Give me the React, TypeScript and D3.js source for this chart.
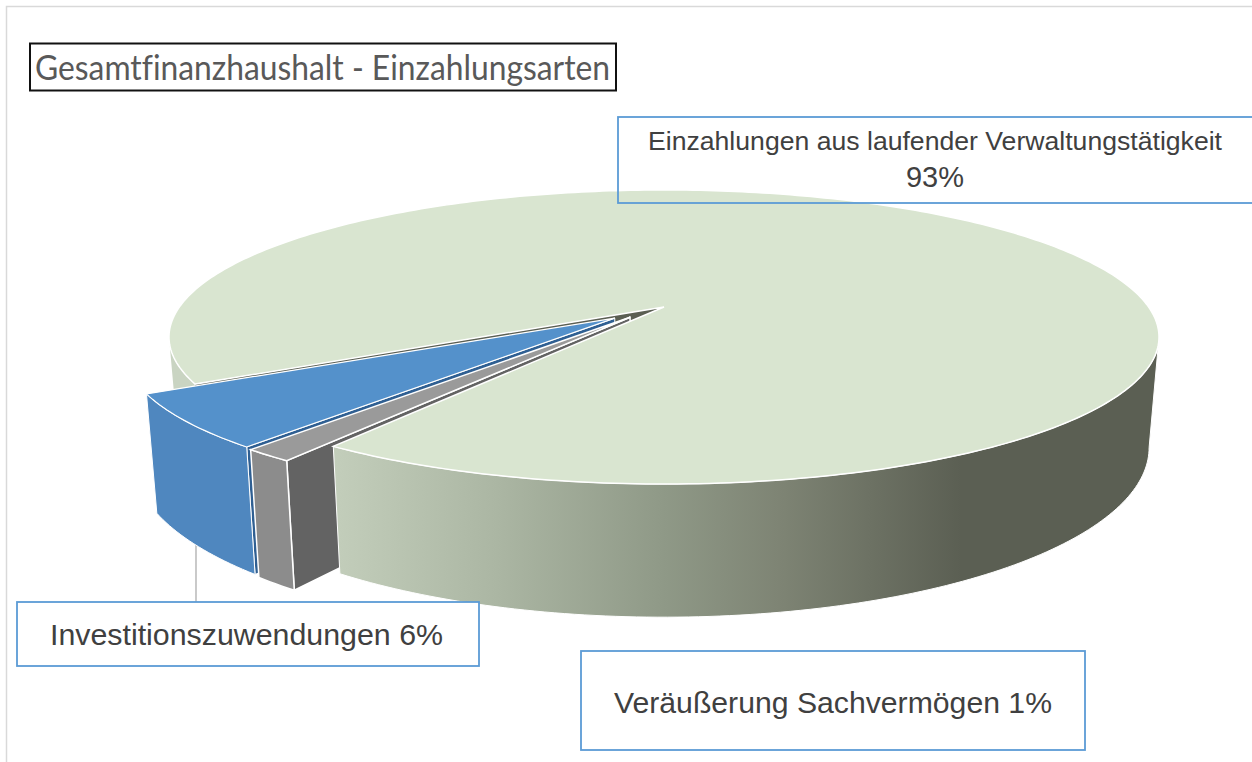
import React from "react";
import * as d3 from "d3";

const categories = ["Veräußerung Sachvermögen", "Investitionszuwendungen", "Einzahlungen aus laufender Verwaltungstätigkeit"];
const values = [1.4, 5.8, 92.8];
const titleText = "Gesamtfinanzhaushalt - Einzahlungsarten";

const deg = Math.PI / 180;
const cx = 664, y0 = 307, A = 484.6, B = 140.9, K = 0.204, D = 106, SHRINK = 0.02;
const START = 214.6 * deg;
type P = [number, number];
const offsets: P[] = [[-0.069, 0.069], [-0.078, 0.056], [0, 0]];
const apexOffsets: P[] = [[-0.069, 0.072], [-0.1, 0.078], [0, 0]];

const proj = (u: number, v: number, z: number): P => {
  const s = 1 / (1 - K * v);
  return [cx + A * u * s * (1 - SHRINK * z), y0 + B * v * s + D * z * s];
};
const line = d3.line<P>();
const pie = d3.pie<number>().sort(null).startAngle(START).endAngle(START + 2 * Math.PI);
const arcs = pie(values);

const rim = (a: number, b: number, off: P, z: number): P[] => {
  const n = Math.max(2, Math.ceil(Math.abs(b - a) / deg));
  return d3.range(n + 1).map((i) => {
    const t = a + ((b - a) * i) / n;
    return proj(Math.sin(t) + off[0], -Math.cos(t) + off[1], z);
  });
};
const closed = (pts: P[]) => line(pts) + "Z";
const topPath = (a: number, b: number, off: P, apex: P) => closed([proj(apex[0], apex[1], 0), ...rim(a, b, off, 0)]);
const wallPath = (a: number, b: number, off: P) => closed([...rim(a, b, off, 0), ...rim(a, b, off, 1).reverse()]);
const facePath = (t: number, off: P, apex: P) => {
  const e0 = proj(Math.sin(t) + off[0], -Math.cos(t) + off[1], 0);
  const e1 = proj(Math.sin(t) + off[0], -Math.cos(t) + off[1], 1);
  return closed([proj(apex[0], apex[1], 0), e0, e1, proj(apex[0], apex[1], 1)]);
};

const [grayArc, blueArc, mainArc] = arcs;
const pct = (i: number) => `${Math.round(values[i])}%`;
const RIGHT = 101.8 * deg, LEFT = 258.2 * deg;
const leaderX = 196;

const sans = "'Liberation Sans', Arial, sans-serif";
const noLig = { fontVariantLigatures: "none" } as React.CSSProperties;

export default function App() {
  const oG = offsets[0], oB = offsets[1], oM = offsets[2];
  const aG = apexOffsets[0], aB = apexOffsets[1], aM = apexOffsets[2];
  const mainEnd = mainArc.endAngle - 2 * Math.PI;
  return (
    <svg width={1252} height={762} viewBox="0 0 1252 762" style={{ position: "fixed", left: 0, top: 0, background: "#fff" }}>
      <defs>
        <linearGradient id="wall" gradientUnits="userSpaceOnUse" x1={332} x2={1160} y1={0} y2={0}>
          <stop offset="0" stopColor="#c3cebb" />
          <stop offset="0.2" stopColor="#abb6a3" />
          <stop offset="0.4" stopColor="#8f9987" />
          <stop offset="0.54" stopColor="#7e8474" />
          <stop offset="0.76" stopColor="#5b5f53" />
          <stop offset="1" stopColor="#5b5f53" />
        </linearGradient>
      </defs>
      <path d="M6.5 762V6.5H1252" fill="none" stroke="#d9d9d9" strokeWidth={1.5} />

      {/* back of main slice */}
      <path d={wallPath(mainArc.startAngle, LEFT, oM)} fill="#c9d4c2" />
      <path d={facePath(mainArc.startAngle, oM, aM)} fill="#5b5f53" />

      <line x1={leaderX} x2={leaderX} y1={540} y2={602} stroke="#a6a6a6" strokeWidth={1.2} />

      {/* blue slice */}
      <path d={facePath(blueArc.startAngle, oB, aB)} fill="#2f5f92" stroke="#fff" strokeWidth={1} />
      <path d={wallPath(blueArc.startAngle, blueArc.endAngle, oB)} fill="#4f87bf" stroke="#fff" strokeWidth={1} />
      <path d={topPath(blueArc.startAngle, blueArc.endAngle, oB, aB)} fill="#5491cb" stroke="#fff" strokeWidth={1.2} />

      {/* grey slice */}
      <path d={facePath(grayArc.startAngle, oG, aG)} fill="#636363" stroke="#fff" strokeWidth={1.5} />
      <path d={wallPath(grayArc.startAngle, grayArc.endAngle, oG)} fill="#8c8c8c" stroke="#fff" strokeWidth={1.5} />
      <path d={topPath(grayArc.startAngle, grayArc.endAngle, oG, aG)} fill="#9a9a9a" stroke="#fff" strokeWidth={1.5} />

      {/* main slice */}
      <path d={wallPath(RIGHT, mainEnd, oM)} fill="url(#wall)" stroke="#fff" strokeWidth={1} />
      <path d={topPath(mainArc.startAngle, mainArc.endAngle, oM, aM)} fill="#d9e5d0" stroke="#fff" strokeWidth={1.5} />

      {/* title */}
      <rect x={30} y={43.5} width={586} height={47} fill="#fff" stroke="#111" strokeWidth={2} />
      <text x={35} y={80} fontFamily="Lato, sans-serif" fontSize={34} fill="#595959" textLength={575} lengthAdjust="spacingAndGlyphs" style={noLig}>{titleText}</text>

      {/* labels */}
      <rect x={618} y={117} width={640} height={86} fill="none" stroke="#5b9bd5" strokeWidth={1.8} />
      <text x={648} y={150} fontFamily={sans} fontSize={26} fill="#404040" textLength={574} lengthAdjust="spacingAndGlyphs">{categories[2]}</text>
      <text x={906} y={187} fontFamily={sans} fontSize={30} fill="#404040" textLength={58} lengthAdjust="spacingAndGlyphs">{pct(2)}</text>

      <rect x={17} y={602} width={462} height={64} fill="#fff" stroke="#5b9bd5" strokeWidth={1.8} />
      <text x={50} y={645} fontFamily={sans} fontSize={30} fill="#404040" textLength={393} lengthAdjust="spacingAndGlyphs">{`${categories[1]} ${pct(1)}`}</text>

      <rect x={581} y={651} width={504} height={99} fill="#fff" stroke="#5b9bd5" strokeWidth={1.8} />
      <text x={614} y={713} fontFamily={sans} fontSize={30} fill="#404040" textLength={438} lengthAdjust="spacingAndGlyphs">{`${categories[0]} ${pct(0)}`}</text>
    </svg>
  );
}
